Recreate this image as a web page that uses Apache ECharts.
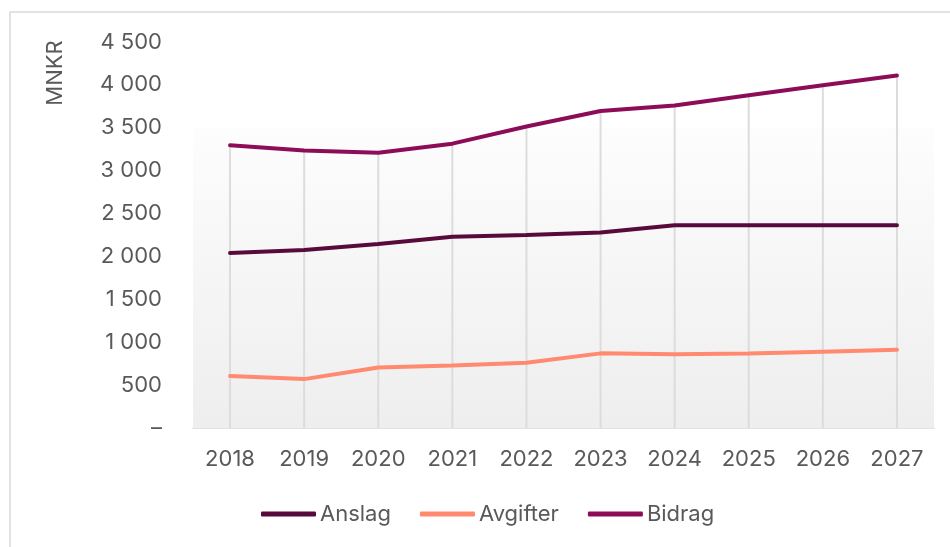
<!DOCTYPE html>
<html>
<head>
<meta charset="utf-8">
<script src="https://cdn.jsdelivr.net/npm/echarts@6/dist/echarts.min.js"></script>
<style>
	html, body { margin: 0; padding: 0; background: #fff; }
	#chart { width: 950px; height: 547px; }
</style>
</head>
<body>
<div id="chart"></div>
<script>
// data (MNKR)
var years = ['2018', '2019', '2020', '2021', '2022', '2023', '2024', '2025', '2026', '2027'];
var anslag = [2040, 2075, 2145, 2230, 2250, 2280, 2365, 2365, 2365, 2365];
var avgifter = [605, 570, 705, 730, 760, 870, 860, 868, 890, 912];
var bidrag = [3295, 3235, 3210, 3315, 3515, 3695, 3760, 3880, 3995, 4110];
var yTicks = [0, 500, 1000, 1500, 2000, 2500, 3000, 3500, 4000, 4500];

var textColor = '#595959';
var fontName = 'Inter';
var fontSize = 22;

function fmt(v) {
	if (v == 0) return '\u2013';
	return String(v).replace(/\B(?=(\d{3})+(?!\d))/g, ' ');
}

var chart = echarts.init(document.getElementById('chart'));
var option = {
	backgroundColor: '#fff',
	textStyle: { fontFamily: fontName },
	animation: false,
	graphic: [
		{
			type: 'rect',
			shape: { x: 10, y: 12, width: 980, height: 580 },
			style: { fill: 'none', stroke: '#d9d9d9', lineWidth: 1.5 },
			silent: true
		},
		{
			type: 'text',
			x: 55,
			y: 73,
			rotation: Math.PI / 2,
			style: {
				text: 'MNKR',
				fill: textColor,
				font: fontSize + 'px ' + fontName,
				align: 'center',
				verticalAlign: 'middle'
			}
		}
	],
	grid: { left: 193, right: 16, top: 42, bottom: 119 },
	legend: {
		data: ['Anslag', 'Avgifter', 'Bidrag'],
		left: 261,
		top: 503,
		padding: 0,
		icon: 'roundRect',
		itemWidth: 55,
		itemHeight: 5,
		itemGap: 29,
		textStyle: { fontSize: fontSize, color: textColor, fontFamily: fontName, padding: [0, 0, 0, -1] }
	},
	xAxis: {
		type: 'category',
		data: years,
		boundaryGap: true,
		axisLine: { lineStyle: { color: '#d9d9d9', width: 1.5 } },
		axisTick: { show: false },
		axisLabel: { fontSize: fontSize, color: textColor, margin: 20 },
		splitLine: { show: false }
	},
	yAxis: {
		type: 'value',
		min: yTicks[0],
		max: yTicks[yTicks.length - 1],
		interval: 500,
		axisLine: { show: false },
		axisTick: { show: false },
		splitLine: { show: false },
		axisLabel: { fontSize: fontSize, color: textColor, margin: 31, formatter: fmt }
	},
	series: [
		{
			// drop lines from Bidrag down to the axis
			name: 'drop',
			type: 'bar',
			data: bidrag,
			barWidth: 2,
			z: 1,
			silent: true,
			itemStyle: { color: '#dcdcdc' },
			markArea: {
				silent: true,
				itemStyle: {
					color: {
						type: 'linear', x: 0, y: 0, x2: 0, y2: 1,
						colorStops: [
							{ offset: 0, color: '#fdfdfd' },
							{ offset: 1, color: '#eeeeee' }
						]
					}
				},
				data: [[{ yAxis: 0 }, { yAxis: 3500 }]]
			}
		},
		{
			name: 'Anslag',
			type: 'line',
			data: anslag,
			symbol: 'none',
			z: 3,
			itemStyle: { color: '#580a3b' },
			lineStyle: { color: '#580a3b', width: 4, cap: 'round' }
		},
		{
			name: 'Avgifter',
			type: 'line',
			data: avgifter,
			symbol: 'none',
			z: 3,
			itemStyle: { color: '#ff8a6f' },
			lineStyle: { color: '#ff8a6f', width: 4, cap: 'round' }
		},
		{
			name: 'Bidrag',
			type: 'line',
			data: bidrag,
			symbol: 'none',
			z: 3,
			itemStyle: { color: '#8c0c58' },
			lineStyle: { color: '#8c0c58', width: 4, cap: 'round' }
		}
	]
};
chart.setOption(option);
</script>
</body>
</html>
